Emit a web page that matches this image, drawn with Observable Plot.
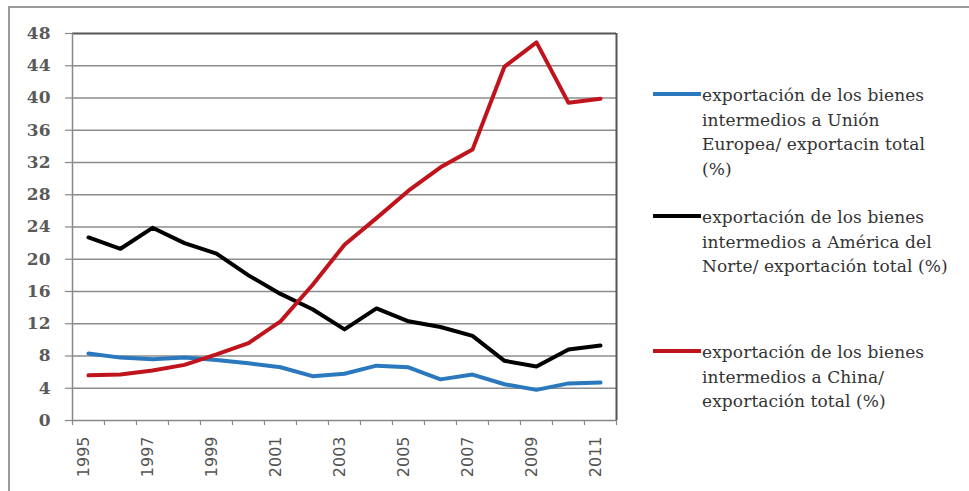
<!DOCTYPE html>
<html>
<head>
<meta charset="utf-8">
<script src="https://cdn.jsdelivr.net/npm/d3@7"></script>
<script src="https://cdn.jsdelivr.net/npm/@observablehq/plot@0.6"></script>
<style>
  html, body { margin: 0; padding: 0; background: #fff; }
  #wrap { position: relative; width: 969px; height: 491px; overflow: hidden; background: #fff; }
  #border { position: absolute; left: 8px; top: 6px; width: 1200px; height: 800px; border-left: 2px solid #9a9a9a; border-top: 2px solid #9a9a9a; }
  #chart { position: absolute; left: 0; top: 0; }
  .key { position: absolute; width: 48px; height: 4px; }
  .txt { position: absolute; font-family: "DejaVu Serif", serif; font-size: 17px; line-height: 24.6px; color: #333; white-space: nowrap; letter-spacing: 0.1px; }
</style>
</head>
<body>
<div id="wrap">
  <div id="border"></div>
  <div id="chart"></div>
  <div id="legend"></div>
</div>
<script>
const years = [1995,1996,1997,1998,1999,2000,2001,2002,2003,2004,2005,2006,2007,2008,2009,2010,2011];
const ue = [8.3,7.8,7.6,7.8,7.5,7.1,6.6,5.5,5.8,6.8,6.6,5.1,5.7,4.5,3.8,4.6,4.7];
const an = [22.7,21.3,23.9,22.0,20.7,18.0,15.7,13.8,11.3,13.9,12.3,11.6,10.5,7.4,6.7,8.8,9.3];
const china = [5.6,5.7,6.2,6.9,8.2,9.6,12.3,16.8,21.8,25.1,28.5,31.4,33.6,43.9,46.9,39.4,39.9];
const seriesNames = [
  "exportación de los bienes intermedios a Unión Europea/ exportacin total (%)",
  "exportación de los bienes intermedios a América del Norte/ exportación total (%)",
  "exportación de los bienes intermedios a China/ exportación total (%)"
];
const legendLines = [
  ["exportación de los bienes", "intermedios a Unión", "Europea/ exportacin total", "(%)"],
  ["exportación de los bienes", "intermedios a América del", "Norte/ exportación total (%)"],
  ["exportación de los bienes", "intermedios a China/", "exportación total (%)"]
];
const colors = ["#2a78bd", "#000000", "#c0141c"];
const yTicks = [0,4,8,12,16,20,24,28,32,36,40,44,48];
const xLabels = [1995,1997,1999,2001,2003,2005,2007,2009,2011];

const rows = [];
[ue, an, china].forEach((vals, s) => {
  years.forEach((yr, i) => rows.push({year: yr, value: vals[i], series: seriesNames[s]}));
});
const boundaries = years.map(y => y - 0.5).concat([years[years.length - 1] + 0.5]);
const xMin = years[0] - 0.5, xMax = years[years.length - 1] + 0.5;

const chart = Plot.plot({
  width: 969,
  height: 491,
  marginLeft: 72,
  marginRight: 353,
  marginTop: 33,
  marginBottom: 71,
  style: {background: "transparent", overflow: "visible"},
  x: {domain: [xMin, xMax], axis: null},
  y: {domain: [0, 48], axis: null},
  color: {domain: seriesNames, range: colors},
  marks: [
    Plot.ruleY(yTicks.filter(d => d > 0 && d < 48), {y: d => d, stroke: "#8c8c8c", strokeWidth: 1.6}),
    Plot.ruleY([48], {stroke: "#555", strokeWidth: 2}),
    Plot.ruleX([xMax], {stroke: "#555", strokeWidth: 2}),
    Plot.ruleY([0], {stroke: "#888", strokeWidth: 1.5}),
    Plot.ruleX([xMin], {stroke: "#888", strokeWidth: 1.5}),
    Plot.tickY(yTicks, {y: d => d, insetLeft: -7, insetRight: 544, stroke: "#888", strokeWidth: 1.2}),
    Plot.tickX(boundaries, {x: d => d, insetTop: 387, insetBottom: -5, stroke: "#888", strokeWidth: 1.2}),
    Plot.text(yTicks, {y: d => d, frameAnchor: "left", dx: -22, textAnchor: "end", text: d => String(d),
      fontFamily: "DejaVu Serif", fontSize: 17, fontWeight: "bold", fill: "#5a5a5a"}),
    Plot.text(xLabels, {x: d => d, frameAnchor: "bottom", dy: 16, rotate: -90, textAnchor: "end", text: d => String(d),
      fontFamily: "DejaVu Sans", fontSize: 16, fill: "#555"}),
    Plot.line(rows, {x: "year", y: "value", stroke: "series", z: "series", strokeWidth: 4, curve: "linear"})
  ]
});
document.getElementById("chart").appendChild(chart);

const legendTops = [83, 205, 340];
const legend = document.getElementById("legend");
legendLines.forEach((lines, i) => {
  const key = document.createElement("div");
  key.className = "key";
  key.style.left = "653px";
  key.style.top = (legendTops[i] + 9) + "px";
  key.style.background = colors[i];
  legend.appendChild(key);
  const t = document.createElement("div");
  t.className = "txt";
  t.style.left = "702px";
  t.style.top = legendTops[i] + "px";
  t.innerHTML = lines.join("<br>");
  legend.appendChild(t);
});
</script>
</body>
</html>
